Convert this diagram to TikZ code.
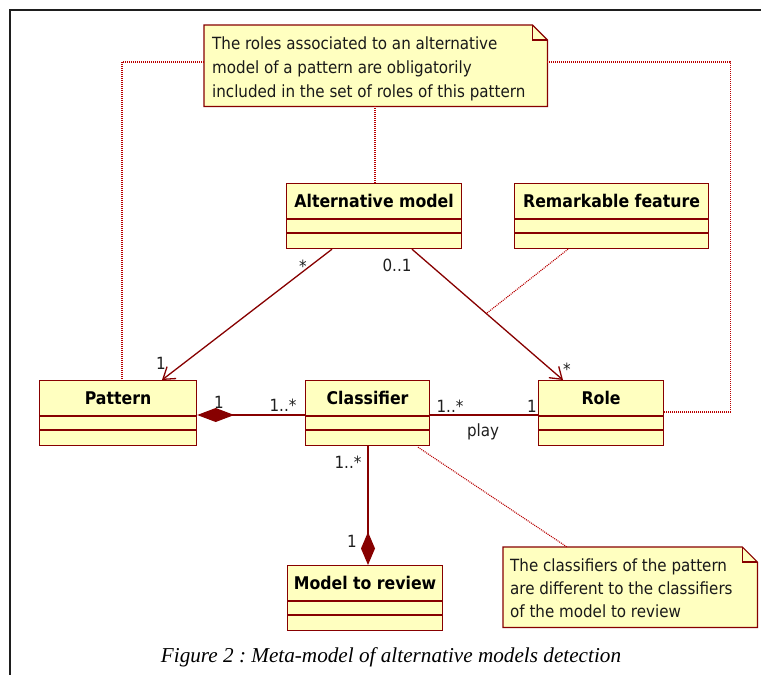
\documentclass[tikz,border=0pt]{standalone}
\usepackage{fontspec}
\setmainfont{DejaVu Sans Condensed}
\newfontfamily\capfont{Liberation Serif}
\usetikzlibrary{arrows.meta,calc}
\frenchspacing

\definecolor{umlred}{RGB}{135,0,0}
\definecolor{umlfill}{RGB}{255,255,192}
\definecolor{notered}{RGB}{185,0,0}
\definecolor{framegray}{RGB}{30,30,30}

\newcommand\namefont{\bfseries\fontsize{17.5}{20}\selectfont}
\newcommand\textfnt{\fontsize{16.8}{24}\selectfont}

\tikzset{
  uml/.style={draw=umlred, line width=1.2pt},
  clsbox/.style={uml, fill=umlfill, inner sep=0pt, minimum height=65pt},
  clsname/.style={font=\namefont, anchor=base, inner sep=0pt},
  mult/.style={font=\textfnt, anchor=base, inner sep=0pt, text=black!88},
  notetext/.style={font=\textfnt, anchor=base west, inner sep=0pt, text=black!90},
  notelink/.style={draw=notered, line width=1.1pt, dash pattern=on 1pt off 1pt},
  assoc/.style={uml, line width=1.3pt},
}

% class box: name, x, y, width, title
\newcommand\umlclass[5]{%
  \node[clsbox, minimum width=#4pt, anchor=north west] (#1) at (#2,#3) {};
  \node[clsname] (#1-name) at ($(#1.north)+(0,24)$) {#5};
  \draw[uml] ($(#1.north west)+(0,36)$) -- ($(#1.north east)+(0,36)$);
  \draw[uml] ($(#1.north west)+(0,50)$) -- ($(#1.north east)+(0,50)$);
}

% note with folded corner: name, x, y, width, height
\newcommand\umlnote[5]{%
  \node[inner sep=0pt, minimum width=#4pt, minimum height=#5pt, anchor=north west] (#1) at (#2,#3) {};
  \draw[uml, fill=umlfill] (#1.north west) -- ($(#1.north east)+(-15,0)$)
    -- ($(#1.north east)+(0,15)$) -- (#1.south east) -- (#1.south west) -- cycle;
  \draw[uml] ($(#1.north east)+(-15,0)$) -- ++(0,15) -- ++(15,0);
}

\begin{document}
\begin{tikzpicture}[x=1pt,y=-1pt]
\useasboundingbox (0,0) rectangle (761,675);
\fill[white] (0,0) rectangle (761,675);

% page frame
\draw[framegray, line width=1.8pt] (10,675) -- (10,10) -- (761,10);

% notes
\umlnote{n1}{204}{25}{343}{81}
\node[notetext] (n1-l1) at (212,49) {The roles associated to an alternative};
\node[notetext] (n1-l2) at (212,73) {model of a pattern are obligatorily};
\node[notetext] (n1-l3) at (212,97) {included in the set of roles of this pattern};

\umlnote{n2}{503}{547}{254}{80}
\node[notetext] (n2-l1) at (510,571) {The classifiers of the pattern};
\node[notetext] (n2-l2) at (510,594) {are different to the classifiers};
\node[notetext] (n2-l3) at (510,617) {of the model to review};

% classes
\umlclass{alt}{286}{183}{175}{Alternative model}
\umlclass{rem}{514}{183}{194}{Remarkable feature}
\umlclass{pat}{39}{380}{157}{Pattern}
\umlclass{cls}{305}{380}{124}{Classifier}
\umlclass{role}{538}{380}{125}{Role}
\umlclass{mod}{287}{565}{155}{Model to review}

% note links
\draw[notelink] ($(n1.north west)+(0,37)$) -| ($(pat.north west)+(83,0)$);
\draw[notelink] ($(n1.north east)+(0,37)$) -- ++(183,0) |- ($(role.north east)+(0,32)$);
\draw[notelink] ($(n1.south west)+(171,0)$) -- ($(alt.north west)+(89,0)$);
\draw[notelink] ($(cls.south west)+(113,1)$) -- ($(n2.north west)+(64,0)$);

% associations
\draw[assoc, -{Straight Barb[length=11pt,width=15pt]}]
  ($(alt.south west)+(46,0)$) -- ($(pat.north west)+(123,0)$);
\draw[assoc, -{Straight Barb[length=11pt,width=15pt]}]
  ($(alt.south west)+(126,0)$) -- coordinate[pos=0.492] (altrole) ($(role.north west)+(25,0)$);
\draw[notelink] ($(rem.south west)+(54,0)$) -- (altrole);

\draw[assoc, {Diamond[length=37pt,width=14pt]}-]
  ($(pat.north east)+(0,35)$) -- ($(cls.north west)+(0,35)$);
\draw[assoc] ($(cls.north east)+(0,35)$) -- ($(role.north west)+(0,35)$);
\draw[assoc, -{Diamond[length=33pt,width=14pt]}]
  ($(cls.south west)+(63,0)$) -- ($(mod.north west)+(81,0)$);

% multiplicities and role names
\node[mult] (m1) at (303,272) {*};
\node[mult] (m2) at (161,369) {1};
\node[mult] (m3) at (397,271) {0..1};
\node[mult] (m4) at (567,375) {*};
\node[mult] (m5) at (219,408) {1};
\node[mult] (m6) at (283,411) {1..*};
\node[mult] (m7) at (450,412) {1..*};
\node[mult] (m8) at (532,412) {1};
\node[mult] (m9) at (483,436) {play};
\node[mult] (m10) at (348,468) {1..*};
\node[mult] (m11) at (352,547) {1};

% caption
\node[font=\capfont\itshape\fontsize{21.2}{21}\selectfont, anchor=base, inner sep=0pt]
  (caption) at (391,662) {Figure 2 : Meta-model of alternative models detection};
\end{tikzpicture}
\end{document}
